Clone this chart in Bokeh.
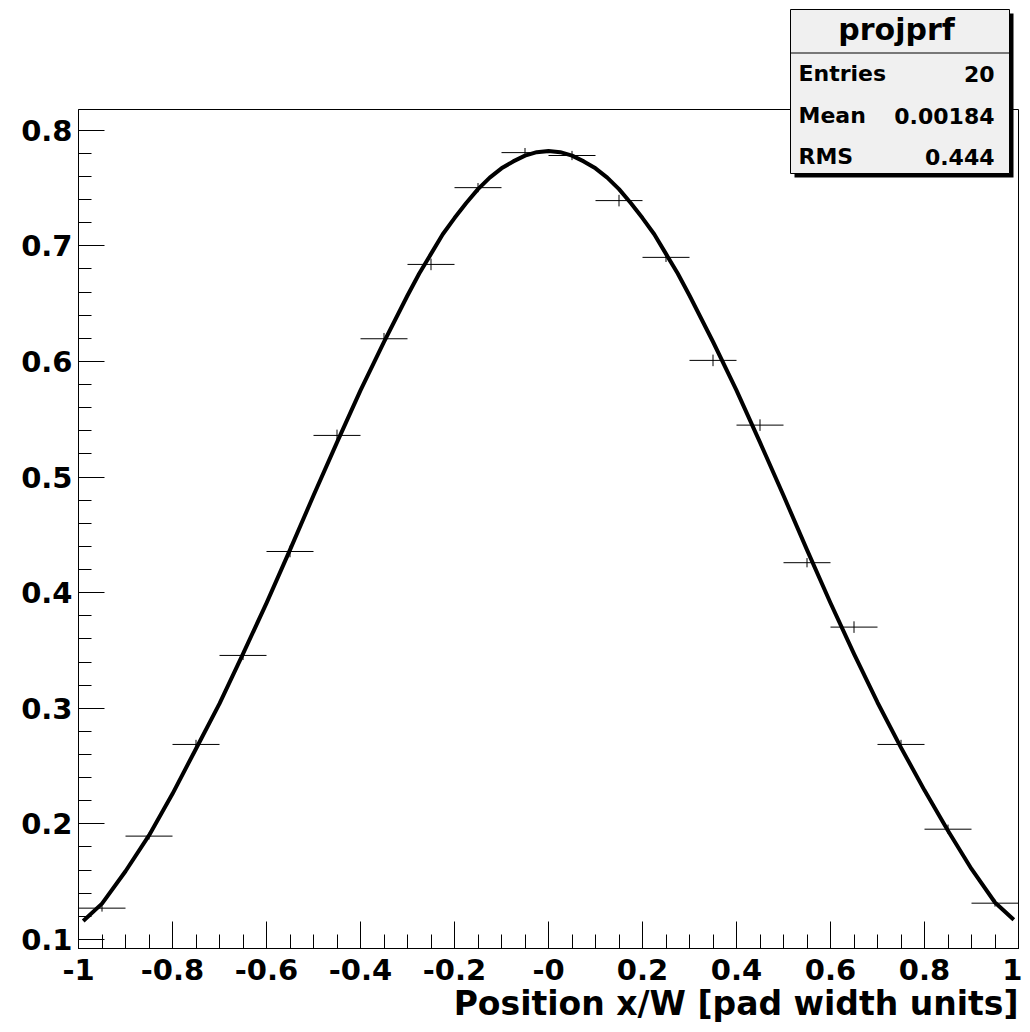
from bokeh.plotting import figure
from bokeh.models import FixedTicker, Range1d
from bokeh.core.properties import value
from bokeh.embed import file_html
from bokeh.resources import INLINE

# ---------------- data ----------------
bin_centers = [-0.95, -0.85, -0.75, -0.65, -0.55, -0.45, -0.35, -0.25, -0.15, -0.05,
               0.05, 0.15, 0.25, 0.35, 0.45, 0.55, 0.65, 0.75, 0.85, 0.95]
bin_values = [0.1271, 0.1894, 0.2687, 0.3457, 0.4356, 0.5360, 0.6196, 0.6839, 0.7503, 0.7806,
              0.7781, 0.7391, 0.6900, 0.6009, 0.5449, 0.4259, 0.3702, 0.2687, 0.1954, 0.1314]
bin_errors = [0.003, 0.003, 0.004, 0.004, 0.005, 0.005, 0.005, 0.005, 0.004, 0.004,
              0.004, 0.005, 0.004, 0.005, 0.005, 0.004, 0.005, 0.004, 0.004, 0.003]
bin_half_width = 0.05

fit_x = [-0.99, -0.95, -0.90, -0.85, -0.80, -0.75, -0.70, -0.65, -0.60, -0.55, -0.50,
         -0.45, -0.40, -0.35, -0.30, -0.275, -0.25, -0.225, -0.20, -0.175, -0.15, -0.125,
         -0.10, -0.075, -0.05, -0.025, 0.00, 0.025, 0.05, 0.075, 0.10, 0.125, 0.15, 0.175,
         0.20, 0.225, 0.25, 0.275, 0.30, 0.35, 0.40, 0.45, 0.50,
         0.55, 0.60, 0.65, 0.70, 0.75, 0.80, 0.85, 0.90, 0.95, 0.99]
fit_y = [0.116, 0.131, 0.159, 0.190, 0.226, 0.265, 0.304, 0.347, 0.391, 0.437, 0.484,
         0.530, 0.575, 0.617, 0.657, 0.676, 0.693, 0.710, 0.724, 0.737, 0.749, 0.759,
         0.767, 0.773, 0.778, 0.781, 0.782, 0.781, 0.778, 0.773, 0.767, 0.759, 0.749, 0.737,
         0.724, 0.710, 0.693, 0.676, 0.657, 0.617, 0.575, 0.530, 0.484,
         0.437, 0.391, 0.347, 0.305, 0.266, 0.229, 0.194, 0.161, 0.132, 0.117]

x_ticks = [-1.0, -0.8, -0.6, -0.4, -0.2, 0.0, 0.2, 0.4, 0.6, 0.8, 1.0]
x_tick_labels = ["-1", "-0.8", "-0.6", "-0.4", "-0.2", "-0", "0.2", "0.4", "0.6", "0.8", "1"]
y_ticks = [0.1, 0.2, 0.3, 0.4, 0.5, 0.6, 0.7, 0.8]
y_tick_labels = ["0.1", "0.2", "0.3", "0.4", "0.5", "0.6", "0.7", "0.8"]

stats_title = "projprf"
stats_names = ["Entries", "Mean", "RMS"]
stats_values = ["20", "0.00184", "0.444"]
x_title = "Position x/W [pad width units]"

X_RANGE = (-1.0, 1.0)
Y_RANGE = (0.0922, 0.8179)

FONT = "DejaVu Sans"

# ---------------- figure ----------------
W, H = 1022, 1024
ML, MR, MT, MB = 78, 4, 109, 76
p = figure(width=W, height=H, output_backend="svg", toolbar_location=None,
           x_range=Range1d(*X_RANGE), y_range=Range1d(*Y_RANGE),
           min_border_left=ML, min_border_right=MR, min_border_top=MT, min_border_bottom=MB)
p.background_fill_color = "white"
p.border_fill_color = "white"
p.outline_line_color = "black"
p.outline_line_width = 1
p.xgrid.visible = False
p.ygrid.visible = False

x_minor = [round(-1 + 0.05 * i, 4) for i in range(41)]
y_minor = [round(0.1 + 0.02 * i, 4) for i in range(36)]

xa = p.xaxis[0]
xa.ticker = FixedTicker(ticks=x_ticks, minor_ticks=x_minor)
xa.major_label_overrides = {t: l for t, l in zip(x_ticks, x_tick_labels)}
xa.major_tick_in = 27
xa.major_tick_out = 0
xa.minor_tick_in = 14
xa.minor_tick_out = 0
xa.major_label_standoff = 10
xa.major_label_text_font = FONT
xa.major_label_text_font_style = "bold"
xa.major_label_text_font_size = "29px"
xa.major_label_text_color = "black"
xa.axis_line_color = "black"
xa.major_tick_line_color = "black"
xa.minor_tick_line_color = "black"

ya = p.yaxis[0]
ya.ticker = FixedTicker(ticks=y_ticks, minor_ticks=y_minor)
ya.major_label_overrides = {t: l for t, l in zip(y_ticks, y_tick_labels)}
ya.major_tick_in = 26
ya.major_tick_out = 0
ya.minor_tick_in = 13
ya.minor_tick_out = 0
ya.major_label_standoff = 6
ya.major_label_text_font = FONT
ya.major_label_text_font_style = "bold"
ya.major_label_text_font_size = "29px"
ya.major_label_text_color = "black"
ya.axis_line_color = "black"
ya.major_tick_line_color = "black"
ya.minor_tick_line_color = "black"

# ---------------- histogram points with error bars ----------------
x_lo = [c - bin_half_width for c in bin_centers]
x_hi = [c + bin_half_width for c in bin_centers]
y_lo = [v - e for v, e in zip(bin_values, bin_errors)]
y_hi = [v + e for v, e in zip(bin_values, bin_errors)]
p.segment(x0=x_lo, y0=bin_values, x1=x_hi, y1=bin_values, line_color="black", line_width=1)
p.segment(x0=bin_centers, y0=y_lo, x1=bin_centers, y1=y_hi, line_color="black", line_width=1)

# ---------------- fitted curve ----------------
p.line(fit_x, fit_y, line_color="black", line_width=4, line_join="round")

# ---------------- helpers: canvas pixel -> data (for decorations outside the frame) ----
FRAME_L, FRAME_R = ML, W - MR
FRAME_T, FRAME_B = MT, H - MB
TEXT_SHIFT = 8  # rendered alphabetic baseline sits this many px below the anchor


def dx(px):
    return X_RANGE[0] + (px - FRAME_L) / (FRAME_R - FRAME_L) * (X_RANGE[1] - X_RANGE[0])


def dy(py):
    return Y_RANGE[1] - (py - FRAME_T) / (FRAME_B - FRAME_T) * (Y_RANGE[1] - Y_RANGE[0])


def ty(py):
    return dy(py - TEXT_SHIFT)


# ---------------- stats box (overlay glyphs, not clipped) ----------------
p.quad(left=[dx(794)], right=[dx(1013)], top=[dy(13)], bottom=[dy(177)],
       fill_color="black", line_color=None, level="overlay")
p.quad(left=[dx(790)], right=[dx(1009)], top=[dy(9)], bottom=[dy(173)],
       fill_color="#f0f0f0", line_color="black", line_width=1, level="overlay")
p.segment(x0=[dx(790)], y0=[dy(52.5)], x1=[dx(1009)], y1=[dy(52.5)],
          line_color="black", line_width=1, level="overlay")

TXT = dict(text_font=value(FONT), text_font_style="bold", text_color="black",
           text_baseline="alphabetic", level="overlay")
p.text(x=[dx(896)], y=[ty(37)], text=[stats_title], text_align="center",
       text_font_size="30px", **TXT)
row_base = [81, 123, 164]
p.text(x=[dx(798)] * 3, y=[ty(b) for b in row_base], text=stats_names, text_align="left",
       text_font_size="22px", **TXT)
p.text(x=[dx(994)] * 3, y=[ty(b) for b in row_base], text=stats_values, text_align="right",
       text_font_size="22px", **TXT)

# ---------------- x-axis title ----------------
p.text(x=[X_RANGE[1]], y=[ty(1011)], text=[x_title], text_align="right",
       text_font_size="33px", **TXT)

open("out.html", "w").write(file_html(p, INLINE))
